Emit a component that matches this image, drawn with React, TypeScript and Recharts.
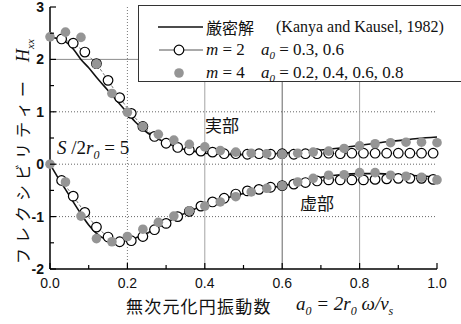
import React from 'react';
import { ComposedChart, Line, Scatter, XAxis, YAxis, ReferenceLine } from 'recharts';

// exact solution (Kanya and Kausel, 1982)
const exactA = [0, 0.02, 0.04, 0.06, 0.08, 0.1, 0.12, 0.14, 0.16, 0.18, 0.2, 0.22, 0.25, 0.28, 0.3, 0.33, 0.36, 0.4, 0.45, 0.5, 0.55, 0.6, 0.65, 0.7, 0.75, 0.8, 0.85, 0.9, 0.95, 1.0];
const exactReal = [2.42, 2.4, 2.34, 2.2, 2.0, 1.84, 1.66, 1.49, 1.32, 1.15, 0.98, 0.81, 0.61, 0.48, 0.41, 0.32, 0.26, 0.21, 0.19, 0.18, 0.19, 0.21, 0.24, 0.27, 0.31, 0.36, 0.41, 0.45, 0.49, 0.52];
const exactImag = [0, -0.25, -0.48, -0.72, -0.95, -1.16, -1.32, -1.42, -1.46, -1.47, -1.45, -1.41, -1.32, -1.2, -1.12, -1.0, -0.9, -0.78, -0.66, -0.56, -0.48, -0.41, -0.33, -0.25, -0.2, -0.18, -0.18, -0.2, -0.22, -0.25];

// m = 2
const m2A = [0.03, 0.06, 0.09, 0.12, 0.15, 0.18, 0.21, 0.24, 0.27, 0.3, 0.33, 0.36, 0.39, 0.42, 0.45, 0.48, 0.51, 0.54, 0.57, 0.6, 0.63, 0.66, 0.69, 0.72, 0.75, 0.78, 0.81, 0.84, 0.87, 0.9, 0.93, 0.96, 0.99];
const m2Real = [2.39, 2.31, 2.14, 1.92, 1.6, 1.27, 0.97, 0.72, 0.53, 0.4, 0.32, 0.27, 0.25, 0.23, 0.2, 0.2, 0.19, 0.2, 0.19, 0.2, 0.19, 0.2, 0.2, 0.21, 0.2, 0.21, 0.21, 0.21, 0.21, 0.21, 0.21, 0.21, 0.21];
const m2Imag = [-0.31, -0.61, -0.92, -1.2, -1.39, -1.48, -1.46, -1.38, -1.25, -1.13, -1.0, -0.9, -0.8, -0.72, -0.65, -0.57, -0.51, -0.48, -0.44, -0.41, -0.38, -0.35, -0.32, -0.3, -0.3, -0.3, -0.3, -0.29, -0.28, -0.27, -0.27, -0.27, -0.29];

// m = 4
const m4A = [0, 0.04, 0.08, 0.12, 0.16, 0.2, 0.24, 0.28, 0.32, 0.36, 0.4, 0.44, 0.48, 0.52, 0.56, 0.6, 0.64, 0.68, 0.72, 0.76, 0.8, 0.84, 0.88, 0.92, 0.96, 1.0];
const m4Real = [2.43, 2.52, 2.42, 1.91, 1.35, 0.99, 0.72, 0.57, 0.46, 0.38, 0.33, 0.26, 0.23, 0.21, 0.2, 0.19, 0.21, 0.23, 0.25, 0.3, 0.35, 0.39, 0.41, 0.42, 0.42, 0.41];
const m4Imag = [0, -0.34, -0.99, -1.42, -1.48, -1.38, -1.24, -1.11, -0.99, -0.89, -0.8, -0.72, -0.62, -0.53, -0.46, -0.41, -0.34, -0.27, -0.21, -0.2, -0.16, -0.16, -0.21, -0.23, -0.25, -0.3];

const xTicks = [0, 0.1, 0.2, 0.3, 0.4, 0.5, 0.6, 0.7, 0.8, 0.9, 1.0];
const xTickLabels = ['0.0', '', '0.2', '', '0.4', '', '0.6', '', '0.8', '', '1.0'];
const yTicks = [-2, -1.5, -1, -0.5, 0, 0.5, 1, 1.5, 2, 2.5, 3];
const yTickLabels = ['-2', '', '-1', '', '0', '', '1', '', '2', '', '3'];

const toPts = (xs: number[], ys: number[]) => xs.map((x, i) => ({ x, y: ys[i] }));

const XTick = (props: any) => {
  const { x, y, index } = props;
  const label = xTickLabels[index] ?? '';
  const major = label !== '';
  return (
    <g>
      <line x1={x} x2={x} y1={y} y2={y - (major ? 6 : 4)} stroke="#000" strokeWidth={1.2} />
      {major && (
        <text x={x} y={y + 19} textAnchor="middle" fontSize={14} fontFamily="'Liberation Sans', Arial, sans-serif" fill="#111">
          {label}
        </text>
      )}
    </g>
  );
};

const YTick = (props: any) => {
  const { x, y, index } = props;
  const label = yTickLabels[index] ?? '';
  const major = label !== '';
  return (
    <g>
      <line x1={x} x2={x + (major ? 6 : 4)} y1={y} y2={y} stroke="#000" strokeWidth={1.2} />
      {major && (
        <text x={x - 6} y={y} dy="0.36em" textAnchor="end" fontSize={14} fontWeight="bold" fontFamily="'Liberation Sans', Arial, sans-serif" fill="#111">
          {label}
        </text>
      )}
    </g>
  );
};

const openDot = (props: any) => {
  const { cx, cy, index } = props;
  if (cx == null || cy == null) return <g key={index} />;
  return <circle key={index} cx={cx} cy={cy} r={4.8} fill="#fff" stroke="#000" strokeWidth={1.2} />;
};

const GrayDot = (props: any) => {
  const { cx, cy } = props;
  return <circle cx={cx} cy={cy} r={4.8} fill="#959595" />;
};

const serif = "'Liberation Serif', 'Times New Roman', serif";
const jp = "'Noto Sans CJK JP', sans-serif";

export default function App() {
  return (
    <div style={{ position: 'absolute', left: 0, top: 0, width: 461, height: 324, background: '#fff', overflow: 'hidden' }}>
      <ComposedChart width={461} height={324} margin={{ top: 7, right: 24, bottom: 25, left: 0 }}>
        <XAxis
          type="number"
          dataKey="x"
          domain={[0, 1]}
          ticks={xTicks}
          interval={0}
          tickSize={0}
          tickMargin={0}
          tick={<XTick />}
          height={30}
          axisLine={{ stroke: '#000', strokeWidth: 1.5 }}
          tickLine={false}
        />
        <YAxis
          type="number"
          dataKey="y"
          domain={[-2, 3]}
          ticks={yTicks}
          interval={0}
          tickSize={0}
          tickMargin={0}
          tick={<YTick />}
          width={50}
          axisLine={{ stroke: '#000', strokeWidth: 1.5 }}
          tickLine={false}
        />
        <ReferenceLine y={2} stroke="#808080" strokeWidth={0.9} />
        <ReferenceLine y={1} stroke="#666" strokeWidth={1} strokeDasharray="1 2" />
        <ReferenceLine y={0} stroke="#666" strokeWidth={1} strokeDasharray="1 2" />
        <ReferenceLine y={-1} stroke="#666" strokeWidth={1} strokeDasharray="1 2" />
        <ReferenceLine x={0.2} stroke="#777" strokeWidth={1} strokeDasharray="1 2" />
        <ReferenceLine x={0.4} stroke="#999" strokeWidth={0.9} />
        <ReferenceLine x={0.6} stroke="#555" strokeWidth={0.9} />
        <ReferenceLine x={0.8} stroke="#999" strokeWidth={0.9} />

        <Line data={toPts(exactA, exactReal)} dataKey="y" type="monotone" stroke="#111" strokeWidth={1.6} dot={false} isAnimationActive={false} />
        <Line data={toPts(exactA, exactImag)} dataKey="y" type="monotone" stroke="#111" strokeWidth={1.6} dot={false} isAnimationActive={false} />

        <Line data={toPts(m2A, m2Real)} dataKey="y" type="linear" stroke="#555" strokeWidth={0.8} strokeDasharray="3 2" dot={openDot} isAnimationActive={false} />
        <Line data={toPts(m2A, m2Imag)} dataKey="y" type="linear" stroke="#555" strokeWidth={0.8} strokeDasharray="3 2" dot={openDot} isAnimationActive={false} />

        <Scatter data={toPts(m4A, m4Real)} dataKey="y" shape={<GrayDot />} isAnimationActive={false} />
        <Scatter data={toPts(m4A, m4Imag)} dataKey="y" shape={<GrayDot />} isAnimationActive={false} />
      </ComposedChart>

      {/* legend */}
      <div style={{ position: 'absolute', left: 138, top: 5, width: 340, height: 77, border: '1px solid #333', background: '#fff', boxSizing: 'border-box' }}>
        <svg width={66} height={77} style={{ position: 'absolute', left: 0, top: 0 }}>
          <line x1={19} x2={64} y1={21} y2={21} stroke="#111" strokeWidth={1.6} />
          <line x1={20} x2={64} y1={44} y2={44} stroke="#555" strokeWidth={1} />
          <circle cx={40} cy={44} r={4.8} fill="#fff" stroke="#000" strokeWidth={1.2} />
          <circle cx={40} cy={67} r={4.8} fill="#959595" />
        </svg>
        <div style={{ position: 'absolute', left: 67, top: 10, fontFamily: jp, fontSize: 16, lineHeight: '22px', whiteSpace: 'nowrap', color: '#111' }}>厳密解</div>
        <div style={{ position: 'absolute', left: 137, top: 10, fontFamily: serif, fontSize: 16, lineHeight: '22px', whiteSpace: 'nowrap', color: '#111' }}>(Kanya and Kausel, 1982)</div>
        <div style={{ position: 'absolute', left: 67, top: 33, fontFamily: serif, fontSize: 17, lineHeight: '22px', whiteSpace: 'nowrap', color: '#111' }}>
          <i>m</i> = 2
        </div>
        <div style={{ position: 'absolute', left: 122, top: 33, fontFamily: serif, fontSize: 17, lineHeight: '22px', whiteSpace: 'nowrap', color: '#111' }}>
          <i>a</i><sub style={{ fontSize: 11, fontStyle: 'italic' }}>0</sub> = 0.3, 0.6
        </div>
        <div style={{ position: 'absolute', left: 67, top: 56, fontFamily: serif, fontSize: 17, lineHeight: '22px', whiteSpace: 'nowrap', color: '#111' }}>
          <i>m</i> = 4
        </div>
        <div style={{ position: 'absolute', left: 122, top: 56, fontFamily: serif, fontSize: 17, lineHeight: '22px', whiteSpace: 'nowrap', color: '#111' }}>
          <i>a</i><sub style={{ fontSize: 11, fontStyle: 'italic' }}>0</sub> = 0.2, 0.4, 0.6, 0.8
        </div>
      </div>

      {/* annotations */}
      <div style={{ position: 'absolute', left: 205, top: 114, fontFamily: jp, fontSize: 17, lineHeight: '22px', color: '#111' }}>実部</div>
      <div style={{ position: 'absolute', left: 300, top: 192, fontFamily: jp, fontSize: 17, lineHeight: '22px', color: '#111' }}>虚部</div>
      <div style={{ position: 'absolute', left: 57, top: 136, fontFamily: serif, fontSize: 19, lineHeight: '24px', whiteSpace: 'nowrap', color: '#111' }}>
        <i>S</i> /2<i>r</i><sub style={{ fontSize: 12, fontStyle: 'italic' }}>0</sub> = 5
      </div>

      {/* x-axis title */}
      <div style={{ position: 'absolute', left: 126, top: 294, fontFamily: jp, fontSize: 17, lineHeight: '24px', letterSpacing: 1.2, whiteSpace: 'nowrap', color: '#111' }}>無次元化円振動数</div>
      <div style={{ position: 'absolute', left: 296, top: 292, fontFamily: serif, fontSize: 19, lineHeight: '24px', whiteSpace: 'nowrap', color: '#111', fontStyle: 'italic' }}>
        a<sub style={{ fontSize: 12 }}>0</sub> = 2r<sub style={{ fontSize: 12 }}>0</sub> ω/v<sub style={{ fontSize: 12 }}>s</sub>
      </div>

      {/* y-axis title */}
      <div
        style={{
          position: 'absolute',
          left: 22 - 117,
          top: 147 - 11,
          width: 234,
          height: 22,
          transform: 'rotate(-90deg)',
          transformOrigin: 'center',
          whiteSpace: 'nowrap',
          lineHeight: '22px',
          color: '#111',
        }}
      >
        <span style={{ fontFamily: jp, fontSize: 16, letterSpacing: 5 }}>フレクシビリティー</span>
        <span style={{ fontFamily: serif, fontSize: 18, fontStyle: 'italic', marginLeft: 14 }}>
          H<sub style={{ fontSize: 11 }}>xx</sub>
        </span>
      </div>
    </div>
  );
}
